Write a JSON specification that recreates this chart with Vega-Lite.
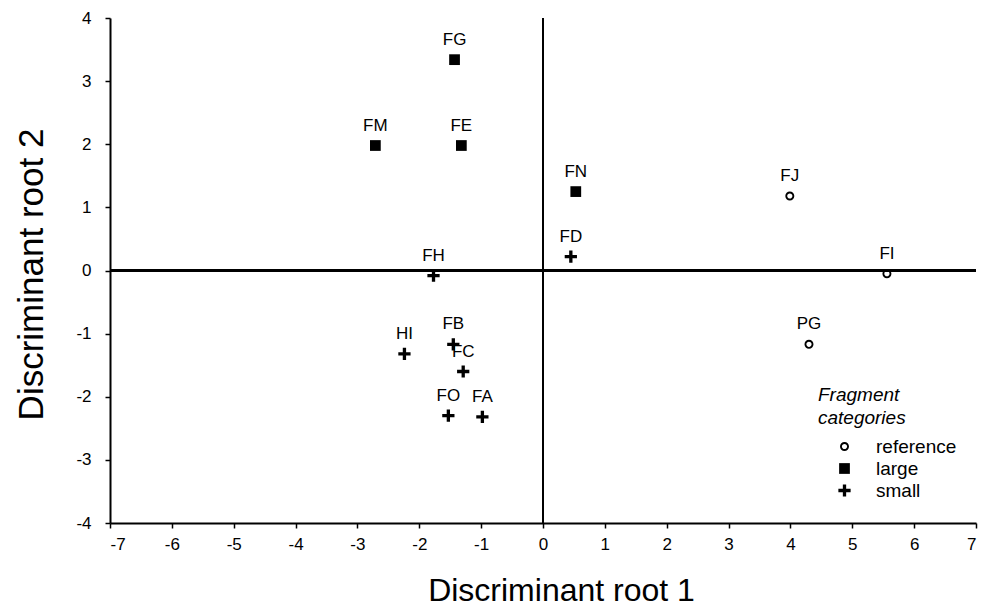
{
  "$schema": "https://vega.github.io/schema/vega-lite/v6.json",
  "width": 866,
  "height": 505,
  "autosize": {"type": "none"},
  "padding": {"left": 110, "top": 18, "right": 7, "bottom": 84},
  "background": "white",
  "config": {"view": {"stroke": null}, "font": "Liberation Sans"},
  "data": {
    "values": [
      {"label": "FG", "category": "large", "x": -1.43, "y": 3.34},
      {"label": "FM", "category": "large", "x": -2.71, "y": 1.98},
      {"label": "FE", "category": "large", "x": -1.32, "y": 1.98},
      {"label": "FN", "category": "large", "x": 0.53, "y": 1.25},
      {"label": "FD", "category": "small", "x": 0.45, "y": 0.22},
      {"label": "FH", "category": "small", "x": -1.77, "y": -0.08},
      {"label": "HI", "category": "small", "x": -2.24, "y": -1.32},
      {"label": "FB", "category": "small", "x": -1.45, "y": -1.17},
      {"label": "FC", "category": "small", "x": -1.29, "y": -1.6},
      {"label": "FO", "category": "small", "x": -1.53, "y": -2.3},
      {"label": "FA", "category": "small", "x": -0.98, "y": -2.32},
      {"label": "FJ", "category": "reference", "x": 3.99, "y": 1.18},
      {"label": "FI", "category": "reference", "x": 5.56, "y": -0.05},
      {"label": "PG", "category": "reference", "x": 4.3, "y": -1.17}
    ]
  },
  "layer": [
    {
      "mark": {"type": "rule", "color": "black", "strokeWidth": 2},
      "encoding": {"x": {"datum": 0, "type": "quantitative"}}
    },
    {
      "mark": {"type": "rule", "color": "black", "strokeWidth": 2},
      "encoding": {"y": {"datum": 0, "type": "quantitative"}}
    },
    {
      "mark": {"type": "point", "filled": true, "color": "black", "opacity": 1, "strokeWidth": 0},
      "encoding": {
        "x": {
          "field": "x", "type": "quantitative",
          "scale": {"domain": [-7, 7], "nice": false, "zero": false},
          "axis": {
            "title": "Discriminant root 1",
            "values": [-7, -6, -5, -4, -3, -2, -1, 0, 1, 2, 3, 4, 5, 6, 7],
            "labelExpr": "'' + datum.value",
            "grid": false,
            "domainColor": "black", "domainWidth": 2,
            "tickColor": "black", "tickSize": 5, "tickWidth": 1.5,
            "labelFontSize": 17, "labelColor": "black", "labelPadding": 8,
            "titleFontSize": 32, "titleFontWeight": "normal", "titleColor": "black",
            "titleX": 451, "titleY": 77, "titleBaseline": "alphabetic", "titleAlign": "center"
          }
        },
        "y": {
          "field": "y", "type": "quantitative",
          "scale": {"domain": [-4, 4], "nice": false, "zero": false},
          "axis": {
            "title": "Discriminant root 2",
            "values": [-4, -3, -2, -1, 0, 1, 2, 3, 4],
            "labelExpr": "'' + datum.value",
            "grid": false,
            "domainColor": "black", "domainWidth": 2,
            "tickColor": "black", "tickSize": 5, "tickWidth": 1.5,
            "labelFontSize": 17, "labelColor": "black", "labelPadding": 14,
            "titleFontSize": 35, "titleFontWeight": "normal", "titleColor": "black",
            "titleX": -68, "titleY": 256, "titleBaseline": "alphabetic", "titleAlign": "center", "titleAngle": -90
          }
        },
        "shape": {
          "field": "category", "type": "nominal",
          "scale": {
            "domain": ["reference", "large", "small"],
            "range": [
              "M0,-1A1,1 0 1,1 0,1A1,1 0 1,1 0,-1Z M0,-0.58A0.58,0.58 0 1,0 0,0.58A0.58,0.58 0 1,0 0,-0.58Z",
              "square",
              "M-1,-0.27H1V0.27H-1Z M-0.27,-1H0.27V1H-0.27Z"
            ]
          },
          "legend": {
            "title": ["Fragment", "categories"],
            "orient": "none", "legendX": 708, "legendY": 368, "padding": 0,
            "titleFontStyle": "italic", "titleFontWeight": "normal", "titleFontSize": 19, "titleLineHeight": 23,
            "titleColor": "black", "titleAnchor": "start", "titlePadding": 9,
            "labelFontSize": 19, "labelColor": "black", "labelOffset": 22,
            "symbolOffset": 17, "rowPadding": 2,
            "symbolFillColor": "black", "symbolStrokeWidth": 0
          }
        },
        "size": {
          "field": "category", "type": "nominal",
          "scale": {"domain": ["reference", "large", "small"], "range": [81, 150, 125]},
          "legend": {
            "title": ["Fragment", "categories"],
            "orient": "none", "legendX": 708, "legendY": 368, "padding": 0,
            "titleFontStyle": "italic", "titleFontWeight": "normal", "titleFontSize": 19, "titleLineHeight": 23,
            "titleColor": "black", "titleAnchor": "start", "titlePadding": 9,
            "labelFontSize": 19, "labelColor": "black", "labelOffset": 22,
            "symbolOffset": 17, "rowPadding": 2,
            "symbolFillColor": "black", "symbolStrokeWidth": 0
          }
        }
      }
    },
    {
      "mark": {"type": "text", "dy": -20, "fontSize": 17, "color": "black"},
      "encoding": {
        "x": {"field": "x", "type": "quantitative"},
        "y": {"field": "y", "type": "quantitative"},
        "text": {"field": "label"}
      }
    }
  ]
}
